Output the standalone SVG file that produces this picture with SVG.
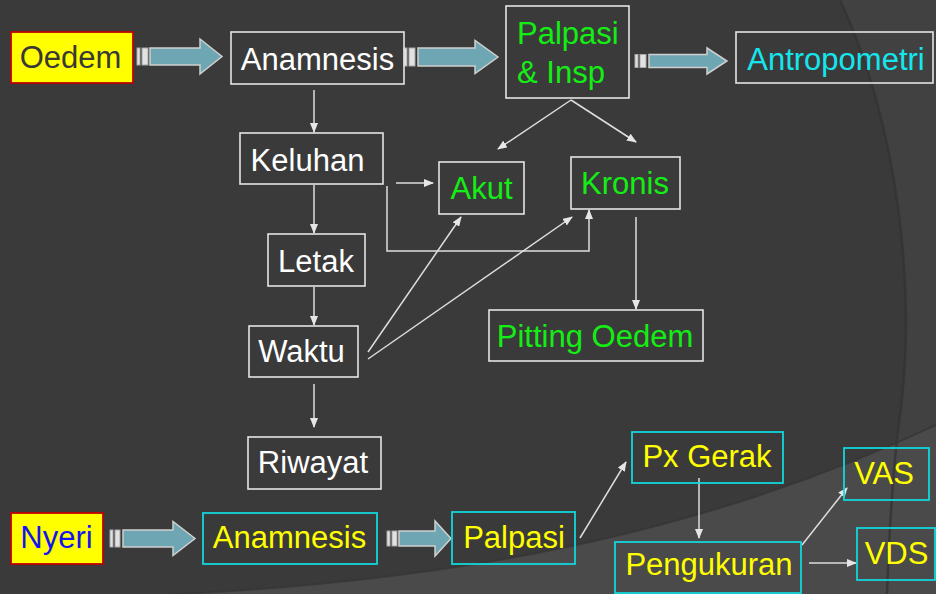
<svg xmlns="http://www.w3.org/2000/svg" width="936" height="594" viewBox="0 0 936 594">
<defs>
<style>
text{font-family:"Liberation Sans",Arial,sans-serif;font-size:31px;text-anchor:middle}
.bw{fill:none;stroke:#e4e4e4;stroke-width:1.6}
.bc{fill:none;stroke:#12d6dc;stroke-width:1.8}
.by{fill:#ffff00;stroke:#c00000;stroke-width:1.8}
.tw{fill:#ffffff}
.tg{fill:#14ee14}
.tc{fill:#14e6ee}
.ty{fill:#ffff00}
.ln{fill:none;stroke:#dedede;stroke-width:1.5;marker-end:url(#ah)}
.ba{fill:#6fa6b4;stroke:#cfcfcf;stroke-width:1.5}
.bs{fill:#e2e2e2;stroke:#a8a8a8;stroke-width:1}
</style>
<marker id="ah" markerUnits="userSpaceOnUse" markerWidth="10" markerHeight="8" refX="9" refY="4" orient="auto">
<path d="M0,0 L10,4 L0,8 Z" fill="#e6e6e6"/>
</marker>
</defs>
<rect width="936" height="594" fill="#3a3a3a"/>
<path d="M840 0 C900 130 918 300 898 430 C892 480 889 540 887 594 L936 594 L936 0 Z" fill="#414141"/>
<path d="M0 600 C350 595 650 560 936 425 L936 594 L0 594 Z" fill="#4a4a4a"/>
<path d="M840 0 C900 130 918 300 898 430 C892 480 889 540 887 594" fill="none" stroke="#333333" stroke-width="2.5" opacity="0.8"/>
<path d="M0 600 C350 595 650 560 936 425" fill="none" stroke="#353535" stroke-width="2" opacity="0.7"/>

<g id="connectors">
<g id="block-arrows">
<rect class="bs" x="137" y="48" width="3" height="17"/><rect class="bs" x="142" y="48" width="6" height="17"/>
<path class="ba" d="M150 48 H200 V39 L222 56.5 L200 74 V65 H150 Z"/>
<rect class="bs" x="404" y="48" width="3" height="18"/><rect class="bs" x="409" y="48" width="6" height="18"/>
<path class="ba" d="M418 48 H475 V40.5 L498 57 L475 73.5 V66 H418 Z"/>
<rect class="bs" x="635" y="54.5" width="3" height="13"/><rect class="bs" x="640" y="54.5" width="6" height="13"/>
<path class="ba" d="M649 54.5 H707 V48 L727 61 L707 74 V67.5 H649 Z"/>
<rect class="bs" x="110" y="530" width="3" height="17"/><rect class="bs" x="115" y="530" width="5" height="17"/>
<path class="ba" d="M123 530 H173 V521.5 L195 538.5 L173 555.5 V547 H123 Z"/>
<rect class="bs" x="387" y="531" width="3" height="15"/><rect class="bs" x="392" y="531" width="5" height="15"/>
<path class="ba" d="M399 531 H435 V521 L451 538.5 L435 556 V546 H399 Z"/>
</g>
<line class="ln" x1="314" y1="90" x2="314" y2="132"/>
<line class="ln" x1="314" y1="185" x2="314" y2="233"/>
<line class="ln" x1="314" y1="287" x2="314" y2="325"/>
<line class="ln" x1="314" y1="384" x2="314" y2="427"/>
<line class="ln" x1="396" y1="183" x2="433" y2="183"/>
<path class="ln" d="M387 186 V251 H589 V210"/>
<line class="ln" x1="571" y1="100" x2="498" y2="149"/>
<line class="ln" x1="571" y1="100" x2="636" y2="142"/>
<line class="ln" x1="368" y1="352" x2="461" y2="217"/>
<line class="ln" x1="368" y1="359" x2="572" y2="217"/>
<line class="ln" x1="636" y1="217" x2="636" y2="309"/>
<line class="ln" x1="580" y1="538" x2="626" y2="462"/>
<line class="ln" x1="699" y1="478" x2="699" y2="538"/>
<line class="ln" x1="802" y1="545" x2="847" y2="488"/>
<line class="ln" x1="809" y1="563" x2="856" y2="563"/>
</g>

<g id="oedem"><rect class="by" x="11" y="32" width="122" height="51"/><text x="70.5" y="68" fill="#383838">Oedem</text></g>
<g id="anamnesis1"><rect class="bw" x="231" y="32" width="173" height="52"/><text class="tw" x="317.5" y="70">Anamnesis</text></g>
<g id="palpasi-insp"><rect class="bw" x="506" y="6" width="123" height="92"/><text class="tg" x="517" y="44" style="text-anchor:start">Palpasi</text><text class="tg" x="517" y="83" style="text-anchor:start">&amp; Insp</text></g>
<g id="antropometri"><rect class="bw" x="736" y="32" width="197" height="51"/><text class="tc" x="836" y="70">Antropometri</text></g>
<g id="keluhan"><rect class="bw" x="240" y="133" width="143" height="51"/><text class="tw" x="307.5" y="171">Keluhan</text></g>
<g id="letak"><rect class="bw" x="268" y="234" width="97" height="52"/><text class="tw" x="316" y="272">Letak</text></g>
<g id="waktu"><rect class="bw" x="249" y="326" width="109" height="51"/><text class="tw" x="301.5" y="362">Waktu</text></g>
<g id="riwayat"><rect class="bw" x="248" y="437" width="133" height="52"/><text class="tw" x="313" y="473">Riwayat</text></g>
<g id="akut"><rect class="bw" x="439" y="162" width="85" height="52"/><text class="tg" x="481.5" y="199">Akut</text></g>
<g id="kronis"><rect class="bw" x="571" y="157" width="109" height="52"/><text class="tg" x="625" y="194">Kronis</text></g>
<g id="pitting-oedem"><rect class="bw" x="489" y="310" width="214" height="51"/><text class="tg" x="595" y="347">Pitting Oedem</text></g>
<g id="nyeri"><rect class="by" x="11" y="513" width="92" height="51"/><text x="56.5" y="548" fill="#1414f0">Nyeri</text></g>
<g id="anamnesis2"><rect class="bc" x="203" y="513" width="174" height="51"/><text class="ty" x="289.5" y="548">Anamnesis</text></g>
<g id="palpasi2"><rect class="bc" x="452" y="512" width="123" height="52"/><text class="ty" x="514" y="548">Palpasi</text></g>
<g id="px-gerak"><rect class="bc" x="632" y="432" width="151" height="51"/><text class="ty" x="707" y="467">Px Gerak</text></g>
<g id="pengukuran"><rect class="bc" x="615" y="542" width="186" height="51"/><text class="ty" x="709" y="575">Pengukuran</text></g>
<g id="vas"><rect class="bc" x="844" y="448" width="85" height="52"/><text class="ty" x="884" y="484">VAS</text></g>
<g id="vds"><rect class="bc" x="857" y="528" width="78" height="52"/><text class="ty" x="896.5" y="564">VDS</text></g>
</svg>
